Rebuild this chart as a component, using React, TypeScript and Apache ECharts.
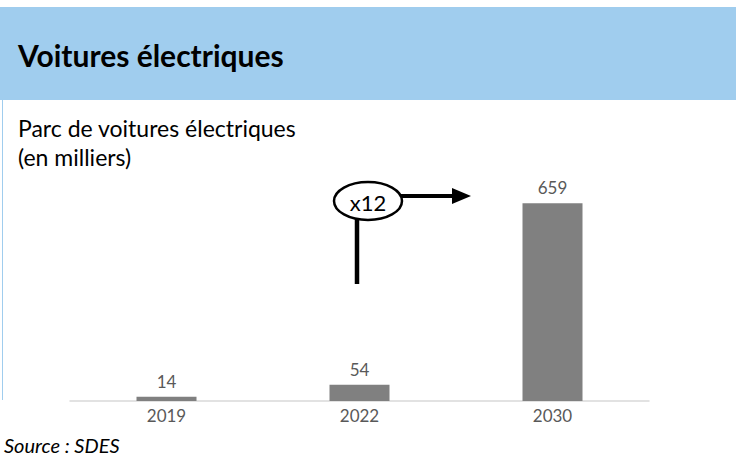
import React, { useEffect, useRef } from "react";
import * as echarts from "echarts";

const categories = ["2019", "2022", "2030"];
const values = [14, 54, 659];
const titleText = "Voitures électriques";
const subtitleLines = ["Parc de voitures électriques", "(en milliers)"];
const sourceText = "Source : SDES";
const annotationText = "x12";

export default function App() {
  const ref = useRef<HTMLDivElement>(null);
  useEffect(() => {
    if (!ref.current) return;
    const chart = echarts.init(ref.current, null, { renderer: "svg" });
    const font = "Lato, 'Open Sans', sans-serif";
    chart.setOption({
      animation: false,
      backgroundColor: "#ffffff",
      grid: { left: 70, right: 87, top: 161, bottom: 57 },
      xAxis: {
        type: "category",
        data: categories,
        axisLine: { lineStyle: { color: "#d9d9d9", width: 1.5 } },
        axisTick: { show: false },
        axisLabel: { color: "#595959", fontSize: 17, fontFamily: font, margin: 6 },
      },
      yAxis: { type: "value", min: 0, max: 800, show: false, splitLine: { show: false } },
      series: [
        {
          type: "bar",
          data: values,
          barWidth: 60,
          itemStyle: { color: "#808080" },
          label: {
            show: true,
            position: "top",
            distance: 7,
            color: "#595959",
            fontSize: 17,
            fontFamily: font,
          },
        },
      ],
      graphic: [
        { type: "rect", shape: { x: 0, y: 7, width: 736, height: 93 }, style: { fill: "#a0cdee" }, z: 0 },
        { type: "rect", shape: { x: 2, y: 100, width: 1, height: 300 }, style: { fill: "#a0cdee" }, z: 0 },
        {
          type: "text",
          left: 18,
          top: 40,
          style: { text: titleText, fill: "#000", fontSize: 30, fontWeight: "bold", fontFamily: font },
        },
        {
          type: "text",
          left: 18,
          top: 113,
          style: { text: subtitleLines.join("\n"), fill: "#000", fontSize: 23, lineHeight: 29, fontFamily: font },
        },
        {
          type: "text",
          left: 4,
          top: 435,
          style: { text: sourceText, fill: "#000", fontSize: 20, fontStyle: "italic", fontFamily: font },
        },
        {
          type: "line",
          shape: { x1: 357, y1: 219, x2: 357, y2: 284 },
          style: { stroke: "#000", lineWidth: 4.5 },
          z: 10,
        },
        {
          type: "line",
          shape: { x1: 401, y1: 196, x2: 455, y2: 196 },
          style: { stroke: "#000", lineWidth: 4 },
          z: 10,
        },
        {
          type: "polygon",
          shape: { points: [[452, 188], [471, 196], [452, 204]] },
          style: { fill: "#000" },
          z: 10,
        },
        {
          type: "ellipse",
          shape: { cx: 368, cy: 201, rx: 34, ry: 19 },
          style: { fill: "#fff", stroke: "#000", lineWidth: 2.5 },
          z: 11,
        },
        {
          type: "text",
          x: 368,
          y: 202,
          style: {
            text: annotationText,
            fill: "#000",
            fontSize: 22,
            fontFamily: font,
            align: "center",
            verticalAlign: "middle",
          },
          z: 12,
        },
      ],
    });
    return () => chart.dispose();
  }, []);
  return (
    <div
      ref={ref}
      style={{ position: "fixed", left: 0, top: 0, width: 736, height: 458 }}
    />
  );
}
